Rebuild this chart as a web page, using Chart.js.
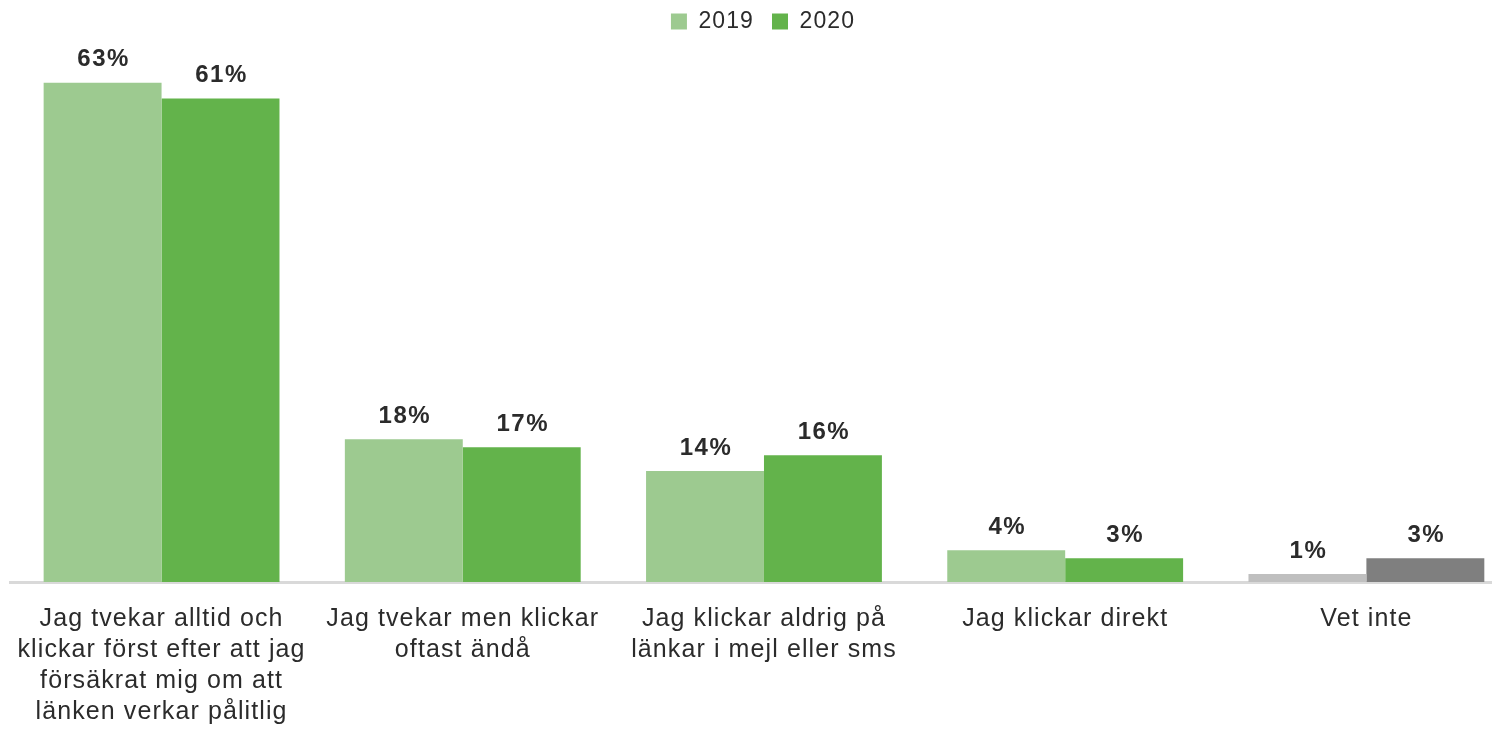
<!DOCTYPE html>
<html>
<head>
<meta charset="utf-8">
<script src="https://cdn.jsdelivr.net/npm/chart.js@4/dist/chart.umd.min.js"></script>
<style>
  html, body { margin: 0; padding: 0; background: #fff; overflow: hidden; }
  #wrap { width: 1526px; height: 750px; margin-left: -6px; }
</style>
</head>
<body>
<div id="wrap"><canvas id="chart"></canvas></div>
<script>
var categories = [
  ["Jag tvekar alltid och", "klickar först efter att jag", "försäkrat mig om att", "länken verkar pålitlig"],
  ["Jag tvekar men klickar", "oftast ändå"],
  ["Jag klickar aldrig på", "länkar i mejl eller sms"],
  ["Jag klickar direkt"],
  ["Vet inte"]
];
var values2019 = [63, 18, 14, 4, 1];
var values2020 = [61, 17, 16, 3, 3];
var colors2019 = ["#9dca90", "#9dca90", "#9dca90", "#9dca90", "#bfbfbf"];
var colors2020 = ["#63b34b", "#63b34b", "#63b34b", "#63b34b", "#7f7f7f"];

var fontFamily = "'Liberation Sans', Arial, sans-serif";
var textColor = "#2b2b2b";

// the source font runs wider than Arial, so loosen the tracking a bit
var tracking = {
  id: 'tracking',
  beforeLayout: function (chart) { chart.ctx.letterSpacing = '1.1px'; },
  beforeDraw: function (chart) { chart.ctx.letterSpacing = '1.1px'; }
};

// percent labels above each bar
var valueLabels = {
  id: 'valueLabels',
  afterDatasetsDraw: function (chart) {
    var ctx = chart.ctx;
    ctx.save();
    ctx.letterSpacing = '1.5px';
    ctx.font = "bold 24px " + fontFamily;
    ctx.fillStyle = textColor;
    ctx.textAlign = 'center';
    ctx.textBaseline = 'middle';
    chart.data.datasets.forEach(function (ds, i) {
      chart.getDatasetMeta(i).data.forEach(function (bar, j) {
        ctx.fillText(ds.data[j] + '%', bar.x + 1, bar.y - 23);
      });
    });
    ctx.restore();
  }
};

function pick(list) {
  return function (c) {
    return c.dataIndex === undefined ? list[0] : list[c.dataIndex];
  };
}

new Chart(document.getElementById('chart').getContext('2d'), {
  type: 'bar',
  data: {
    labels: categories,
    datasets: [
      { label: '2019', data: values2019, backgroundColor: pick(colors2019) },
      { label: '2020', data: values2020, backgroundColor: pick(colors2020) }
    ]
  },
  options: {
    responsive: true,
    maintainAspectRatio: false,
    animation: false,
    categoryPercentage: 0.783,
    barPercentage: 1.0,
    layout: { padding: { left: 15, right: 3, top: -8, bottom: 0 } },
    plugins: {
      legend: {
        position: 'top',
        labels: {
          boxWidth: 16,
          boxHeight: 16,
          padding: 18,
          color: textColor,
          font: { family: fontFamily, size: 23 }
        }
      },
      tooltip: { enabled: false }
    },
    scales: {
      x: {
        grid: { display: false, drawTicks: false },
        border: { display: true, color: '#d9d9d9', width: 3 },
        ticks: {
          color: textColor,
          padding: 22,
          maxRotation: 0,
          autoSkip: false,
          font: { family: fontFamily, size: 25, lineHeight: 1.24 }
        }
      },
      y: {
        display: false,
        min: 0,
        max: 68
      }
    }
  },
  plugins: [tracking, valueLabels]
});
</script>
</body>
</html>
